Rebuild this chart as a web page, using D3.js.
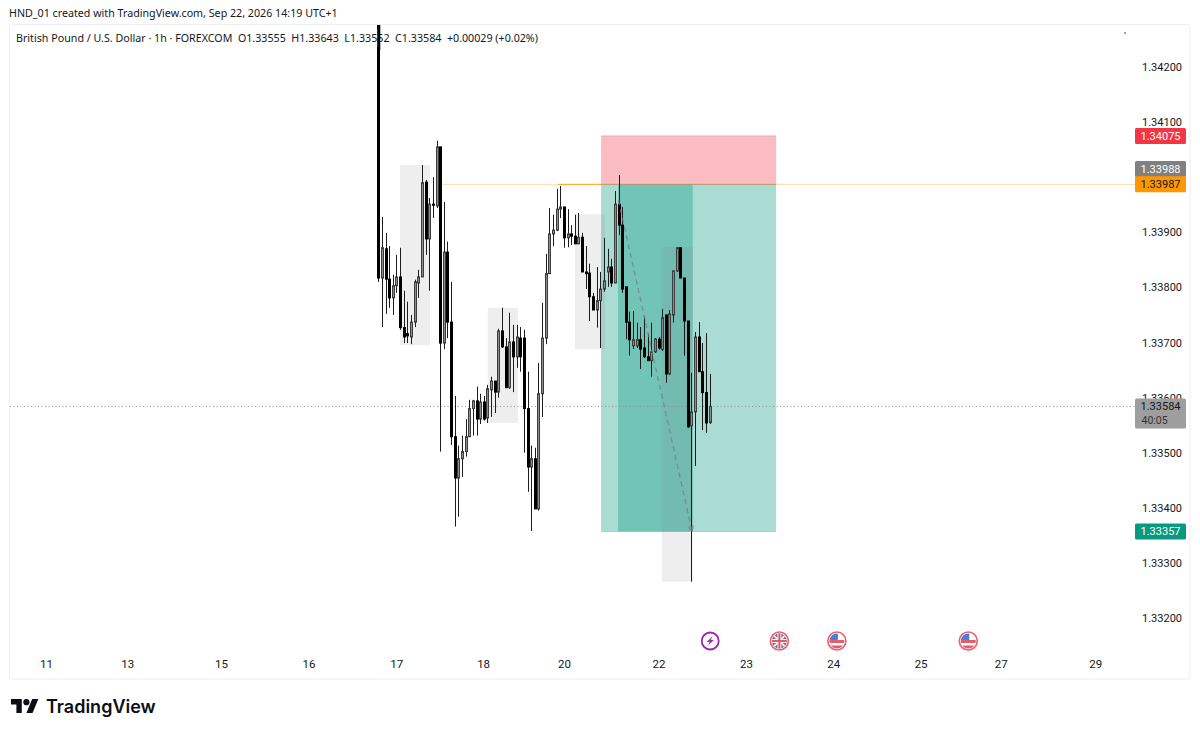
<!DOCTYPE html>
<html><head><meta charset="utf-8">
<script src="https://cdn.jsdelivr.net/npm/d3@7"></script>
<style>html,body{margin:0;padding:0;background:#fff}svg{display:block}</style>
</head><body><svg id="c" width="1200" height="734"></svg>
<script>
// --- data ---
const opens=[1.3445,1.33817,1.33870,1.33815,1.33781,1.33803,1.33819,1.33727,1.33716,1.33710,1.33737,1.33808,1.33819,1.33991,1.33888,1.33951,1.33948,1.34055,1.33699,1.33864,1.33737,1.33529,1.33454,1.33489,1.33502,1.33529,1.33580,1.33594,1.33561,1.33592,1.33563,1.33614,1.33630,1.33610,1.33721,1.33692,1.33618,1.33701,1.33674,1.33708,1.33708,1.33580,1.33474,1.33489,1.33398,1.33607,1.33708,1.33825,1.33897,1.33904,1.33942,1.33946,1.33890,1.33897,1.33893,1.33879,1.33891,1.33828,1.33826,1.33783,1.33759,1.33776,1.33797,1.33828,1.33837,1.33808,1.33951,1.33913,1.33801,1.33737,1.33694,1.33694,1.33705,1.33690,1.33674,1.33667,1.33683,1.33706,1.33687,1.33750,1.33643,1.33750,1.33830,1.33872,1.33817,1.33739,1.33549,1.33574,1.33710,1.33647,1.33609,1.33555];
const highs=[1.3445,1.33928,1.33899,1.33875,1.33823,1.33859,1.33872,1.33794,1.33774,1.33750,1.33814,1.33832,1.34022,1.33995,1.33962,1.34000,1.34066,1.34055,1.33955,1.33883,1.33810,1.33603,1.33513,1.33531,1.33561,1.33596,1.33596,1.33620,1.33607,1.33603,1.33623,1.33638,1.33630,1.33725,1.33763,1.33708,1.33754,1.33732,1.33732,1.33728,1.33723,1.33647,1.33513,1.33509,1.33663,1.33772,1.33861,1.33944,1.33932,1.33979,1.33984,1.33946,1.33942,1.33913,1.33932,1.33935,1.33899,1.33875,1.33843,1.33790,1.33837,1.33828,1.33890,1.33870,1.33852,1.33975,1.34004,1.33946,1.33801,1.33756,1.33757,1.33736,1.33728,1.33747,1.33716,1.33736,1.33708,1.33710,1.33761,1.33750,1.33759,1.33830,1.33873,1.33873,1.33817,1.33739,1.33645,1.33719,1.33737,1.33699,1.33717,1.33643];
const lows=[1.33810,1.33728,1.33752,1.33763,1.33750,1.33790,1.33723,1.33699,1.33699,1.33697,1.33728,1.33781,1.33819,1.33859,1.33794,1.33926,1.33944,1.33502,1.33688,1.33708,1.33514,1.33366,1.33384,1.33456,1.33493,1.33529,1.33531,1.33531,1.33552,1.33558,1.33554,1.33565,1.33572,1.33600,1.33690,1.33618,1.33616,1.33610,1.33654,1.33647,1.33500,1.33429,1.33358,1.33398,1.33395,1.33565,1.33697,1.33825,1.33875,1.33902,1.33926,1.33872,1.33873,1.33877,1.33879,1.33879,1.33828,1.33797,1.33739,1.33759,1.33727,1.33690,1.33792,1.33801,1.33801,1.33808,1.33895,1.33790,1.33706,1.33676,1.33688,1.33690,1.33652,1.33672,1.33667,1.33638,1.33681,1.33687,1.33685,1.33627,1.33641,1.33736,1.33828,1.33817,1.33676,1.33545,1.33266,1.33476,1.33647,1.33541,1.33536,1.33552];
const closes=[1.33817,1.33872,1.33815,1.33781,1.33803,1.33819,1.33727,1.33710,1.33712,1.33737,1.33810,1.33819,1.33990,1.33888,1.33951,1.33950,1.34055,1.33699,1.33864,1.33737,1.33529,1.33454,1.33489,1.33502,1.33529,1.33580,1.33594,1.33561,1.33592,1.33561,1.33616,1.33630,1.33610,1.33721,1.33692,1.33618,1.33701,1.33674,1.33710,1.33674,1.33580,1.33474,1.33489,1.33398,1.33607,1.33708,1.33825,1.33897,1.33904,1.33942,1.33946,1.33890,1.33897,1.33893,1.33879,1.33891,1.33828,1.33825,1.33783,1.33759,1.33776,1.33797,1.33812,1.33837,1.33808,1.33951,1.33913,1.33797,1.33737,1.33705,1.33705,1.33705,1.33688,1.33674,1.33667,1.33683,1.33706,1.33690,1.33745,1.33643,1.33752,1.33830,1.33872,1.33817,1.33739,1.33547,1.33574,1.33710,1.33647,1.33609,1.33554,1.33584];

const priceTicks=[1.342,1.341,1.339,1.338,1.337,1.336,1.335,1.334,1.333,1.332];
const dayLabels=["11","13","15","16","17","18","20","22","23","24","25","27","29"];
const dayBars=[-91.3,-69,-43.2,-19.2,4.9,28.8,51,77,101,125,149,171,197];

// zones: start bar, end bar, upper price, lower price
const greyBoxes=[[5.96,14.2,1.34022,1.33695],[30.1,38.4,1.33763,1.33554],[54,62.3,1.33933,1.33688],[77.9,86.4,1.33873,1.33266]];
const positionBars=[61.2,109.3];
const entryPrice=1.33987, stopPrice=1.34075, targetPrice=1.33357;
const innerZoneBars=[65.85,86.4];
const orangeBars=[17,49.4,61.2];
const arrowFrom=[66,1.33958], arrowTo=[86.2,1.33357];
const lastPrice=1.33584;
const tags=[["1.34075",1.34075,"#F23645","#fff"],["1.33988",1.34015,"#808080","#fff"],["1.33987",1.33987,"#FF9800","#131722"],["1.33357",1.33357,"#089981","#fff"]];
const eventBars=[["bolt",91.2],["uk",110.2],["us",126],["us",162.1]];

// --- scales ---
const W=1200,H=734;
const x=d3.scaleLinear().domain([0,91]).range([378.3,709.5]);
const y=d3.scaleLinear().domain([1.342,1.332]).range([67,618]);
const svg=d3.select("#c");
const FONT="Roboto, 'Noto Sans', sans-serif";
const INK="#131722";

const defs=svg.append("defs");
defs.append("clipPath").attr("id","plot").append("rect").attr("x",10).attr("y",25).attr("width",1125).attr("height",654);
defs.append("filter").attr("id","soft").append("feGaussianBlur").attr("stdDeviation",0.35);
defs.append("clipPath").attr("id","coin").append("circle").attr("r",7.5);
defs.append("marker").attr("id","head").attr("viewBox","0 0 10 10").attr("refX",9).attr("refY",5).attr("markerWidth",7).attr("markerHeight",7).attr("markerUnits","userSpaceOnUse").attr("orient","auto")
  .append("path").attr("d","M1,1L9,5L1,9").attr("fill","none").attr("stroke","rgba(120,123,134,.8)").attr("stroke-width",1.6);

svg.append("rect").attr("width",W).attr("height",H).attr("fill","#fff");
svg.append("rect").attr("x",9.5).attr("y",24.5).attr("width",1180.5).attr("height",654.5).attr("rx",3)
  .attr("fill","#fff").attr("stroke","#eceef2");

svg.append("text").attr("x",9).attr("y",17).attr("font-family","'Noto Sans',sans-serif").attr("font-size",10.7).attr("fill",INK)
  .text("HND_01 created with TradingView.com, Sep 22, 2026 14:19 UTC+1");

const plot=svg.append("g").attr("clip-path","url(#plot)");

// position tool
const [pa,pb]=positionBars;
plot.append("rect").attr("x",x(pa)).attr("width",x(pb)-x(pa)).attr("y",y(stopPrice)).attr("height",y(entryPrice)-y(stopPrice)).attr("fill","rgba(242,54,69,.33)");
plot.append("rect").attr("x",x(pa)).attr("width",x(pb)-x(pa)).attr("y",y(entryPrice)).attr("height",y(targetPrice)-y(entryPrice)).attr("fill","rgba(8,153,129,.34)");
plot.append("rect").attr("x",x(innerZoneBars[0])).attr("width",x(innerZoneBars[1])-x(innerZoneBars[0])).attr("y",y(entryPrice)).attr("height",y(targetPrice)-y(entryPrice)).attr("fill","rgba(8,153,129,.35)");

// grey boxes
plot.selectAll("rect.box").data(greyBoxes).join("rect").attr("class","box")
  .attr("x",d=>x(d[0])).attr("width",d=>x(d[1])-x(d[0])).attr("y",d=>y(d[2])).attr("height",d=>y(d[3])-y(d[2]))
  .attr("fill","rgba(120,123,134,.13)");

// edges of position
[stopPrice,entryPrice,targetPrice].forEach((p,i)=>plot.append("line").attr("x1",x(pa)).attr("x2",x(pb)).attr("y1",y(p)).attr("y2",y(p))
  .attr("stroke","rgba(120,123,134,"+(i==1?.6:.3)+")"));

// horizontal lines
plot.append("line").attr("x1",x(orangeBars[0])).attr("x2",1135).attr("y1",y(entryPrice)).attr("y2",y(entryPrice)).attr("stroke","rgba(255,152,0,.35)");
plot.append("line").attr("x1",x(orangeBars[1])).attr("x2",x(orangeBars[2])).attr("y1",y(entryPrice)).attr("y2",y(entryPrice)).attr("stroke","rgba(255,152,0,.8)");
plot.append("line").attr("x1",10).attr("x2",1135).attr("y1",y(lastPrice)).attr("y2",y(lastPrice)).attr("stroke","#8a8d96").attr("stroke-dasharray","1 2.5");

// candles
const candles=opens.map((o,i)=>({i,o,h:highs[i],l:lows[i],c:closes[i]}));
const cg=plot.append("g").attr("filter","url(#soft)");
cg.selectAll("line.w").data(candles).join("line").attr("class","w")
  .attr("x1",d=>Math.round(x(d.i))+.5).attr("x2",d=>Math.round(x(d.i))+.5)
  .attr("y1",d=>y(d.h)).attr("y2",d=>y(d.l)).attr("stroke","#1a1a1a").attr("stroke-width",1);
cg.selectAll("rect.b").data(candles).join("rect").attr("class","b")
  .attr("x",d=>Math.round(x(d.i))-.5).attr("width",2)
  .attr("y",d=>y(Math.max(d.o,d.c))).attr("height",d=>Math.max(1,Math.abs(y(d.o)-y(d.c))))
  .attr("fill",d=>d.c>=d.o?"#8c8c8c":"#000").attr("stroke",d=>d.c>=d.o?"#3c3c3c":"#000").attr("stroke-width",1);

// diagonal
plot.append("line").attr("x1",x(arrowFrom[0])).attr("y1",y(arrowFrom[1])).attr("x2",x(arrowTo[0])).attr("y2",y(arrowTo[1]))
  .attr("stroke","rgba(120,123,134,.75)").attr("stroke-width",1.3).attr("stroke-dasharray","5 4").attr("marker-end","url(#head)");

// price axis
const yAxis=d3.axisRight(y).tickValues(priceTicks).tickFormat(d3.format(".5f")).tickSize(0).tickPadding(0);
const ya=svg.append("g").attr("transform","translate(1142,0)").call(yAxis);
ya.select(".domain").remove();
ya.selectAll("text").attr("font-family",FONT).attr("font-size",11).attr("fill",INK);

// time axis
const xTick=d3.axisBottom(x).tickValues(dayBars).tickFormat((d,i)=>dayLabels[i]).tickSize(0).tickPadding(0);
const xa=svg.append("g").attr("transform","translate(0,660)").call(xTick);
xa.select(".domain").remove();
xa.selectAll("text").attr("font-family",FONT).attr("font-size",11.5).attr("fill",INK);

// tags
const tg=svg.selectAll("g.tag").data(tags).join("g").attr("class","tag").attr("transform",d=>`translate(1135,${y(d[1])})`);
tg.append("rect").attr("y",-8).attr("width",51).attr("height",16).attr("rx",1.5).attr("fill",d=>d[2]);
tg.append("text").attr("x",25.5).attr("y",4).attr("text-anchor","middle").attr("font-family",FONT).attr("font-size",11).attr("fill",d=>d[3]).text(d=>d[0]);
const lt=svg.append("g").attr("transform",`translate(1135,${y(lastPrice)-8})`);
lt.append("rect").attr("width",51).attr("height",30).attr("rx",1.5).attr("fill","#9e9e9e");
lt.append("text").attr("x",25.5).attr("y",12).attr("text-anchor","middle").attr("font-family",FONT).attr("font-size",11).attr("fill",INK).text(d3.format(".5f")(lastPrice));
lt.append("text").attr("x",6.5).attr("y",26).attr("font-family",FONT).attr("font-size",10.5).attr("fill","#333").text("40:05");

// events
const ev=svg.selectAll("g.ev").data(eventBars).join("g").attr("class","ev").attr("transform",d=>`translate(${x(d[1])},641)`);
ev.each(function(d){
  const g=d3.select(this);
  if(d[0]==="bolt"){
    g.append("circle").attr("r",8.5).attr("fill","#fff").attr("stroke","#9c27b0").attr("stroke-width",1.8);
    g.append("path").attr("d","M2.5,-5 L-3.5,1 L-0.5,1 L-2.5,5 L3.5,-1 L0.5,-1 Z").attr("fill","#9c27b0");
    return;
  }
  g.append("circle").attr("r",9).attr("fill","#fff").attr("stroke","#ef5f6f").attr("stroke-width",1.6);
  const f=g.append("g").attr("clip-path","url(#coin)");
  if(d[0]==="us"){
    f.append("rect").attr("x",-8).attr("y",-8).attr("width",16).attr("height",16).attr("fill","#fff");
    f.append("rect").attr("x",-8).attr("y",-1).attr("width",16).attr("height",3).attr("fill","#e35d6a");
    f.append("rect").attr("x",-8).attr("y",4.5).attr("width",16).attr("height",3.5).attr("fill","#e35d6a");
    f.append("rect").attr("x",-8).attr("y",-8).attr("width",9).attr("height",7).attr("fill","#4a7fd6");
  } else {
    f.append("rect").attr("x",-8).attr("y",-8).attr("width",16).attr("height",16).attr("fill","#5f6f9e");
    f.append("path").attr("d","M-8,-8L8,8M8,-8L-8,8").attr("stroke","#e8e8f0").attr("stroke-width",2);
    f.append("path").attr("d","M0,-8V8M-8,0H8").attr("stroke","#f2f2f6").attr("stroke-width",4);
    f.append("path").attr("d","M0,-8V8M-8,0H8").attr("stroke","#e05a68").attr("stroke-width",2);
  }
});

// header legend
svg.append("rect").attr("x",13).attr("y",29).attr("width",532).attr("height",18).attr("fill","#fff").attr("fill-opacity",.6);
svg.append("text").attr("x",16).attr("y",42).attr("font-family","'Noto Sans',sans-serif").attr("font-size",10.7).attr("fill",INK)
  .style("white-space","pre")
  .text("British Pound / U.S. Dollar · 1h · FOREXCOM  O1.33555  H1.33643  L1.33552  C1.33584  +0.00029 (+0.02%)");
// top stub of the big candle passes over the legend
svg.append("line").attr("x1",x(0)+.5).attr("x2",x(0)+.5).attr("y1",25).attr("y2",50).attr("stroke","#000").attr("stroke-width",3);
svg.append("circle").attr("cx",1125).attr("cy",33).attr("r",.8).attr("fill","#333");

// logo
const logo=svg.append("g").attr("transform","translate(11,696) scale(.77)").attr("fill","#0c0e15");
logo.append("path").attr("d","M14 22H7V11H0V4h14v18zM28 22h-8l7.5-18h8L28 22z");
logo.append("circle").attr("cx",20).attr("cy",8).attr("r",4);
svg.append("text").attr("x",46).attr("y",713).attr("font-family","Inter,sans-serif").attr("font-weight",600).attr("font-size",18).attr("fill","#0c0e15").text("TradingView");
</script></body></html>
